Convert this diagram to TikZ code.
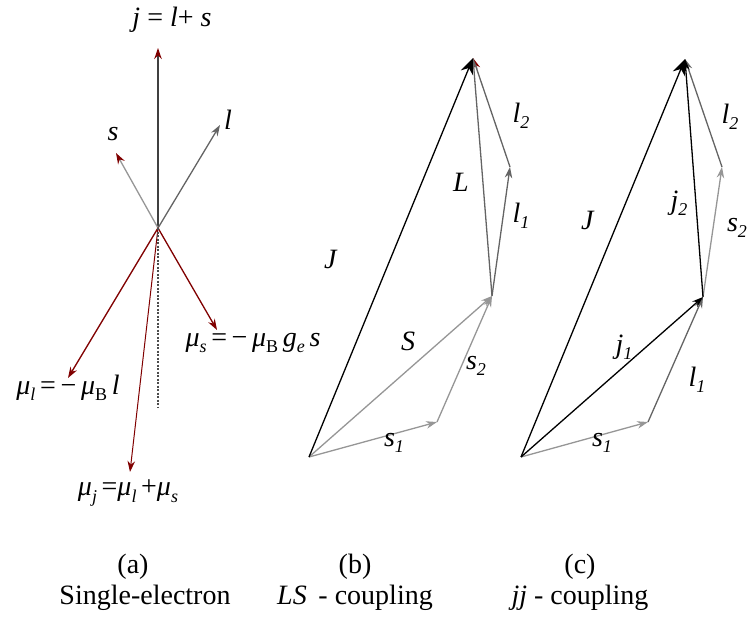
\documentclass[tikz,border=0pt]{standalone}
\usepackage{fontspec}
\setmainfont{Liberation Serif}
\usetikzlibrary{arrows.meta}

\definecolor{darkred}{RGB}{128,0,0}
\definecolor{midgray}{RGB}{100,100,100}
\definecolor{palegray}{RGB}{150,150,150}
\newcommand{\lo}[1]{\raisebox{-0.5ex}{\fontsize{18}{18}\selectfont #1}}

\begin{document}
\begin{tikzpicture}[>=Stealth, x=1pt, y=-1pt, line width=1.3pt,
  font=\fontsize{28}{32}\selectfont,
  vec/.style={-{Stealth[length=11pt,width=7.5pt]}},
  redvec/.style={-{Stealth[length=11pt,width=7.5pt,darkred]}},
  bigvec/.style={-{Stealth[length=16pt,width=13pt]}},
  lab/.style={inner sep=0pt}]
  \useasboundingbox (0,0) rectangle (747,616);

  %--- (a) single electron: points
  \coordinate (o) at (158,228);
  \coordinate (jtip) at (158,48);
  \coordinate (stip) at (116,153);
  \coordinate (ltip) at (220,125);
  \coordinate (mltip) at (68,378);
  \coordinate (mstip) at (217,330);
  \coordinate (mjtip) at (130,472);
  \coordinate (dend) at (158,408);

  %--- (a) angular momenta
  \draw[redvec, black!75] (o) -- (jtip);
  \draw[redvec, palegray] (o) -- (stip);
  \draw[vec, midgray] (o) -- (ltip);

  %--- (a) magnetic moments
  \draw[vec, darkred] (o) -- (mltip);
  \draw[vec, darkred] (o) -- (mstip);
  \draw[vec, darkred, line width=1pt] (o) -- (mjtip);
  \draw[black!70, dash pattern=on 2pt off 1.5pt, line width=1.2pt] (o) -- (dend);

  %--- (a) labels
  \node[lab] (jlab) at (172,20) {\textit{j} = \textit{l}+ \textit{s}};
  \node[lab] (slab) at (113,134) {\textit{s}};
  \node[lab] (llab) at (228,120) {\textit{l}};
  \node[lab] (mllab) at (68,388) {\textit{μ}\lo{\textit{l}}\,=\,−\,\textit{μ}\lo{B}\,\textit{l}};
  \node[lab] (mslab) at (253,343) {\textit{μ}\lo{\textit{s}}\,=\,−\,\textit{μ}\lo{B}\,\textit{g}\lo{\textit{e}}\,\textit{s}};
  \node[lab] (mjlab) at (128,493) {\textit{μ}\lo{\textit{j}}\,=\textit{μ}\lo{\textit{l}}\,+\textit{μ}\lo{\textit{s}}};

  %--- (b) LS coupling: points
  \coordinate (bo) at (309,457);
  \coordinate (bs1) at (437,422);
  \coordinate (bS) at (492,296);
  \coordinate (bl1) at (510,167);
  \coordinate (bJ) at (473,58);

  \draw[vec, palegray] (bo) -- (bs1);
  \draw[vec, palegray] (bs1) -- (bS);
  \draw[vec, palegray] (bo) -- (bS);
  \draw[vec, midgray] (bS) -- (bl1);
  \draw[redvec, midgray] (bl1) -- (bJ);
  \draw[vec, midgray] (bS) -- (bJ);
  \draw[bigvec, black] (bo) -- (bJ);

  \node[lab] (bJlab) at (331,259) {\textit{J}};
  \node[lab] (bLlab) at (461,182) {\textit{L}};
  \node[lab] (bl2lab) at (521,116) {\textit{l}\lo{\textit{2}}};
  \node[lab] (bl1lab) at (521,216) {\textit{l}\lo{\textit{1}}};
  \node[lab] (bSlab) at (408,341) {\textit{S}};
  \node[lab] (bs2lab) at (476,366) {\textit{s}\lo{\textit{2}}};
  \node[lab] (bs1lab) at (394,443) {\textit{s}\lo{\textit{1}}};

  %--- (c) jj coupling: points
  \coordinate (co) at (521,457);
  \coordinate (cs1) at (648,422);
  \coordinate (cj1) at (703,297);
  \coordinate (cs2) at (722,167);
  \coordinate (cJ) at (685,59);

  \draw[vec, palegray] (co) -- (cs1);
  \draw[vec, midgray] (cs1) -- (cj1);
  \draw[vec, black] (co) -- (cj1);
  \draw[vec, palegray] (cj1) -- (cs2);
  \draw[vec, midgray] (cs2) -- (cJ);
  \draw[vec, black] (cj1) -- (cJ);
  \draw[bigvec, black] (co) -- (cJ);

  \node[lab] (cJlab) at (588,220) {\textit{J}};
  \node[lab] (cj2lab) at (679,203) {\textit{j}\lo{\textit{2}}};
  \node[lab] (cl2lab) at (730,117) {\textit{l}\lo{\textit{2}}};
  \node[lab] (cs2lab) at (737,228) {\textit{s}\lo{\textit{2}}};
  \node[lab] (cj1lab) at (624,347) {\textit{j}\lo{\textit{1}}};
  \node[lab] (cl1lab) at (697,380) {\textit{l}\lo{\textit{1}}};
  \node[lab] (cs1lab) at (602,443) {\textit{s}\lo{\textit{1}}};

  %--- captions
  \node[lab] (capa) at (133,567) {(a)};
  \node[lab] (capb) at (355,567) {(b)};
  \node[lab] (capc) at (580,567) {(c)};
  \node[lab] (txta) at (145,598) {Single-electron};
  \node[lab] (txtb) at (355,598) {\textit{LS}\, - coupling};
  \node[lab] (txtc) at (580,598) {\textit{jj} - coupling};
\end{tikzpicture}
\end{document}
